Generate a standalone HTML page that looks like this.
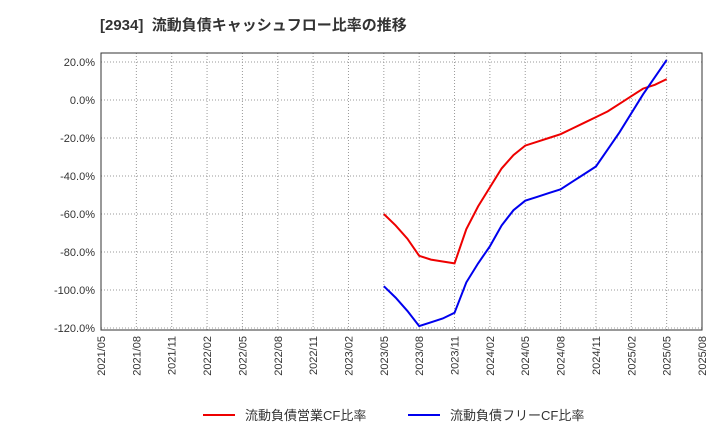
<!DOCTYPE html>
<html><head><meta charset="utf-8"><style>
body{margin:0;background:#fff;font-family:"Liberation Sans","Noto Sans CJK JP",sans-serif;}
</style></head><body>
<svg id="chart" width="720" height="440" xmlns="http://www.w3.org/2000/svg" font-family="Liberation Sans, Noto Sans CJK JP, sans-serif">
<text x="100" y="30" font-size="15" font-weight="bold" fill="#333" xml:space="preserve" style="white-space:pre">[2934]  流動負債キャッシュフロー比率の推移</text>
<g id="grid"></g><g id="axes"></g><g id="series"></g>
<g>
<line x1="203" y1="415" x2="235" y2="415" stroke="#e00" stroke-width="2"/>
<text x="245" y="420" font-size="13" fill="#333">流動負債営業CF比率</text>
<line x1="408" y1="415" x2="440" y2="415" stroke="#00e" stroke-width="2"/>
<text x="450" y="420" font-size="13" fill="#333">流動負債フリーCF比率</text>
</g>
</svg>
<script>
const xLabels=["2021/05","2021/08","2021/11","2022/02","2022/05","2022/08","2022/11","2023/02","2023/05","2023/08","2023/11","2024/02","2024/05","2024/08","2024/11","2025/02","2025/05","2025/08"];
const yTicks=[20,0,-20,-40,-60,-80,-100,-120];
const startMonthIndex=24; // months since 2021/05
const operatingCF=[-60,-66,-73,-82,-84,-85,-86,-68,-56,-46,-36,-29,-24,-22,-20,-18,-15,-12,-9,-6,-2,2,6,8,11];
const freeCF=[-98,-104,-111,-119,-117,-115,-112,-96,-86,-77,-66,-58,-53,-51,-49,-47,-43,-39,-35,-26,-17,-7,3,12,21];
const L=101,R=702,T=53,B=330;
const x=m=>L+m*(R-L)/51;
const y=v=>100-v*1.9;
const ns="http://www.w3.org/2000/svg";
function mk(parent,tag,attrs){const e=document.createElementNS(ns,tag);for(const k in attrs)e.setAttribute(k,attrs[k]);document.getElementById(parent).appendChild(e);return e;}
const frame=mk('axes','rect',{x:L,y:T,width:R-L,height:B-T,fill:'none',stroke:'#333','stroke-width':1});


yTicks.forEach(v=>{
 const g=mk('grid','line',{x1:L,x2:R,y1:y(v),y2:y(v),stroke:'#999','stroke-dasharray':'1,2'});
 
 
 const t=mk('axes','text',{x:L-6,y:y(v)+4,'text-anchor':'end','font-size':11,fill:'#333'});
 t.textContent=v.toFixed(1)+'%';
 
 
});
xLabels.forEach((s,i)=>{
 const xx=x(i*3);
 const g=mk('grid','line',{x1:xx,x2:xx,y1:T,y2:B,stroke:'#999','stroke-dasharray':'1,2'});
 
 
 const t=mk('axes','text',{transform:`translate(${xx+4},${B+6}) rotate(-90)`,'text-anchor':'end','font-size':11,fill:'#333'});
 t.textContent=s;
 
 
});
function line(data,color,name){
 const p=mk('series','polyline',{points:data.map((v,i)=>x(startMonthIndex+i)+','+y(v)).join(' '),fill:'none',stroke:color,'stroke-width':2});
 
 
}
line(operatingCF,'#e00','operating-cf-line');
line(freeCF,'#00e','free-cf-line');
</script>
</body></html>
